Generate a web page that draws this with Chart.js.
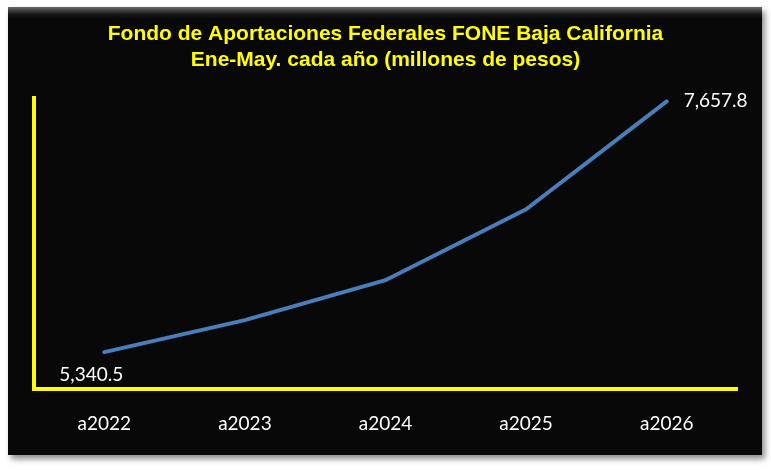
<!DOCTYPE html>
<html>
<head>
<meta charset="utf-8">
<script src="https://cdn.jsdelivr.net/npm/chart.js@4.4.1/dist/chart.umd.min.js"></script>
<style>
  html, body { margin: 0; padding: 0; background: #ffffff; }
  .frame {
    position: absolute; left: 8px; top: 7px; width: 754px; height: 448px;
    background: linear-gradient(#6a6a6a 0px, #1a1a1a 7px, #080808 12px);
    box-shadow: 3px 4px 6px rgba(0,0,0,0.45);
  }
  #fone { position: absolute; left: 0; top: 0; }
</style>
</head>
<body>
<div class="frame"></div>
<canvas id="fone" width="771" height="470"></canvas>
<script>
// datos Ene-May, millones de pesos
const years = ['a2022', 'a2023', 'a2024', 'a2025', 'a2026'];
const fone = [5340.5, 5636, 6005, 6661, 7657.8];
const shownLabels = [0, 4]; // solo primer y ultimo valor tienen etiqueta

const fmt = v => v.toLocaleString('en-US', { minimumFractionDigits: 1, maximumFractionDigits: 1 });

const pointLabels = {
  id: 'pointLabels',
  afterDatasetsDraw(chart) {
    const ctx = chart.ctx;
    const meta = chart.getDatasetMeta(0);
    ctx.save();
    ctx.font = '19px Lato';
    ctx.fillStyle = '#ffffff';
    ctx.textBaseline = 'middle';
    shownLabels.forEach(i => {
      const pt = meta.data[i];
      if (i === 0) {
        ctx.textAlign = 'center';
        ctx.fillText(fmt(fone[i]), pt.x - 13, pt.y + 23);
      } else {
        ctx.textAlign = 'left';
        ctx.fillText(fmt(fone[i]), pt.x + 17, pt.y);
      }
    });
    ctx.restore();
  }
};

const ctx = document.getElementById('fone').getContext('2d');
new Chart(ctx, {
  type: 'line',
  data: {
    labels: years,
    datasets: [{
      data: fone,
      borderColor: '#4a7ebb',
      borderWidth: 4,
      borderCapStyle: 'round',
      pointRadius: 0,
      tension: 0,
      fill: false
    }]
  },
  options: {
    responsive: false,
    animation: false,
    layout: { padding: { left: 34, right: 34, top: 0, bottom: 21 } },
    plugins: {
      legend: { display: false },
      tooltip: { enabled: false },
      title: {
        display: true,
        text: ['Fondo de Aportaciones Federales FONE Baja California', 'Ene-May. cada año (millones de pesos)'],
        color: '#ffff00',
        font: { family: 'Liberation Sans', size: 21, weight: 'bold', lineHeight: 1.2 },
        padding: { top: 22, bottom: 26 }
      }
    },
    scales: {
      x: {
        offset: true,
        grid: { display: false, drawTicks: false },
        border: { display: true, color: '#ffff00', width: 4 },
        ticks: { color: '#ffffff', font: { family: 'Lato', size: 19 }, padding: 23 },
        afterFit: s => { s.height = 60; }
      },
      y: {
        min: 5000,
        max: 7685,
        grid: { display: false, drawTicks: false },
        border: { display: true, color: '#ffff00', width: 4 },
        ticks: { display: false },
        afterFit: s => { s.width = 0; }
      }
    }
  },
  plugins: [pointLabels]
});
</script>
</body>
</html>
